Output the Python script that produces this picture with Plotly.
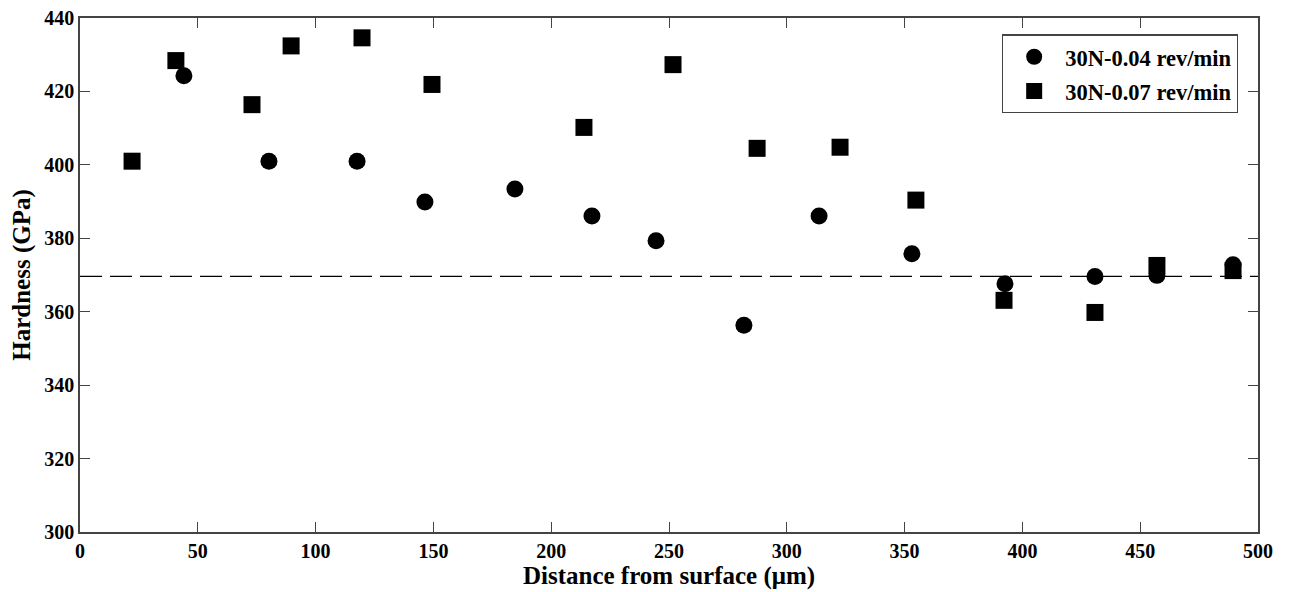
import plotly.graph_objects as go

# Series 1: 30N-0.04 rev/min (circles)
x_004 = [44.1, 80.2, 117.6, 146.4, 184.6, 217.3, 244.5, 281.8, 313.7, 353.1, 392.6, 430.8, 457.1, 489.4]
y_004 = [424.3, 401.0, 401.0, 389.9, 393.4, 386.1, 379.3, 356.3, 386.1, 375.8, 367.6, 369.6, 369.9, 372.8]

# Series 2: 30N-0.07 rev/min (squares)
x_007 = [22.1, 40.7, 73.0, 89.6, 119.7, 149.4, 213.9, 251.7, 287.4, 322.6, 354.8, 392.2, 430.8, 457.1, 489.4]
y_007 = [401.0, 428.4, 416.4, 432.4, 434.6, 421.9, 410.2, 427.3, 404.5, 404.8, 390.4, 363.1, 359.8, 372.6, 371.2]

names = ["30N-0.04 rev/min", "30N-0.07 rev/min"]
baseline = 369.6

x_ticks = [0, 50, 100, 150, 200, 250, 300, 350, 400, 450, 500]
y_ticks = [300, 320, 340, 360, 380, 400, 420, 440]

font_family = "Liberation Serif"

fig = go.Figure()
fig.add_trace(go.Scatter(
    x=x_004, y=y_004, mode="markers", name=names[0], legendgroup="a",
    marker=dict(symbol="circle", size=17, color="black", line=dict(width=0)),
))
fig.add_trace(go.Scatter(
    x=x_007, y=y_007, mode="markers", name=names[1], legendgroup="b",
    marker=dict(symbol="square", size=17, color="black", line=dict(width=0)),
))

fig.add_shape(type="line", xref="x", yref="y", x0=0, x1=500, y0=baseline, y1=baseline,
              line=dict(color="black", width=1.3, dash="22px,8px"), layer="below")

axis_common = dict(
    showgrid=False, zeroline=False, showline=True, linecolor="#444", linewidth=1.5,
    mirror="ticks", ticks="inside", ticklen=10, tickcolor="#444", tickwidth=1.2,
    automargin=False, ticklabeloverflow="allow",
    tickfont=dict(family=font_family, size=20, color="black", weight="bold"),
)

fig.update_xaxes(range=[0, 500], tickvals=x_ticks, ticktext=[str(v) for v in x_ticks],
                 title=dict(text="<b>Distance from surface (μm)</b>", standoff=2,
                            font=dict(family=font_family, size=25, color="black")),
                 **axis_common)
fig.update_yaxes(range=[300, 440], tickvals=y_ticks, ticktext=[str(v) for v in y_ticks],
                 title=dict(text="<b>Hardness (GPa)</b>", standoff=10,
                            font=dict(family=font_family, size=25, color="black")),
                 **axis_common)

fig.update_layout(
    width=1281, height=584,
    margin=dict(l=72, r=31, t=10, b=60),
    paper_bgcolor="white", plot_bgcolor="white",
    showlegend=True,
    legend=dict(
        x=0.983, y=0.968, xanchor="right", yanchor="top",
        bgcolor="white", bordercolor="#444", borderwidth=1.2,
        font=dict(family=font_family, size=22.5, color="black", weight="bold"),
        itemwidth=52, traceorder="grouped", tracegroupgap=2,
    ),
)

fig.write_html("out.html")
